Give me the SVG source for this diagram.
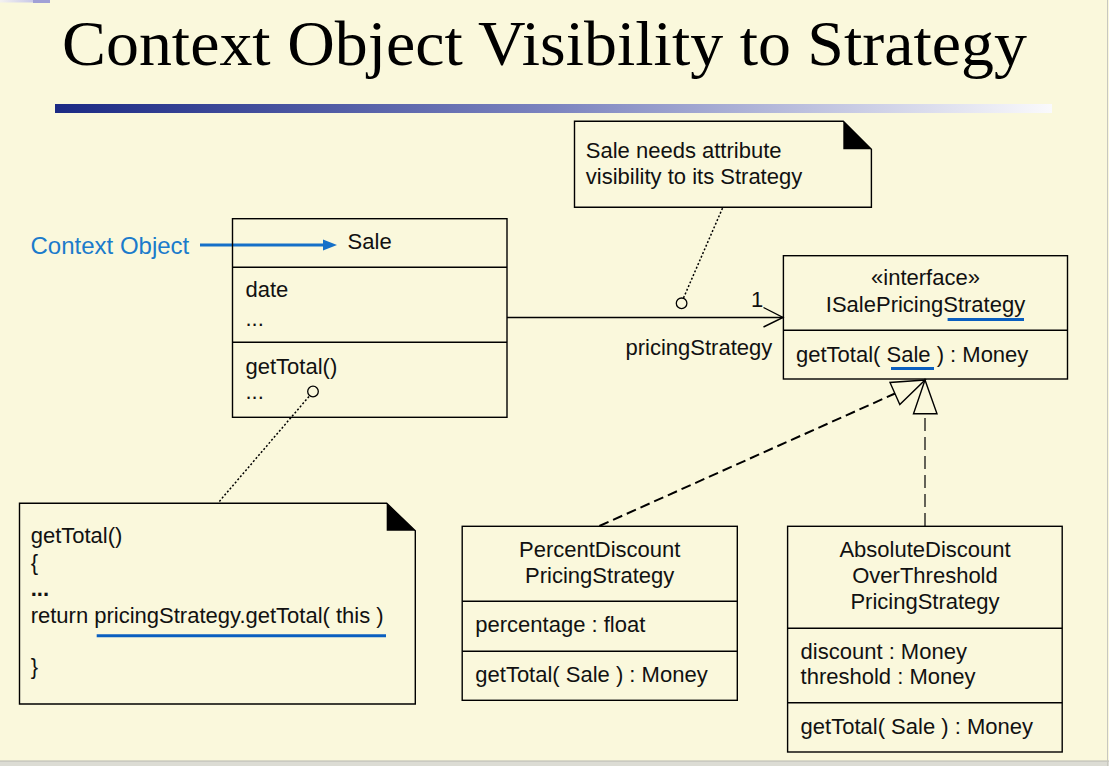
<svg xmlns="http://www.w3.org/2000/svg" width="1109" height="766" viewBox="0 0 1109 766">
<defs>
<linearGradient id="bar" x1="0" y1="0" x2="1" y2="0">
<stop offset="0" stop-color="#1B2A84"/>
<stop offset="0.5" stop-color="#7C84BF"/>
<stop offset="1" stop-color="#FAFAFC"/>
</linearGradient>
<linearGradient id="tl" x1="0" y1="0" x2="1" y2="0">
<stop offset="0" stop-color="#F4F2F0"/>
<stop offset="1" stop-color="#C8C8E8"/>
</linearGradient>
<style>
.t{font-family:"Liberation Sans",Arial,sans-serif;font-size:22px;fill:#111}
.c{text-anchor:middle}
.box{fill:none;stroke:#000;stroke-width:1.4}
.ln{stroke:#000;stroke-width:1.4;fill:none}
.ul{stroke:#0A5FC0;stroke-width:3;fill:none}
.dot{stroke:#000;stroke-width:1.5;stroke-dasharray:2 2;fill:none}
</style>
</defs>
<rect width="1109" height="766" fill="#FAF8DC"/>
<rect x="0" y="0" width="33" height="2.5" fill="url(#tl)"/>
<rect x="33" y="0" width="17" height="3" fill="#A0A0D6"/>
<rect x="0" y="761" width="1109" height="5" fill="#DCDCD4"/>
<line x1="0" y1="761" x2="1109" y2="761" stroke="#B8B8B0" stroke-width="1"/>
<line x1="1107.5" y1="0" x2="1107.5" y2="766" stroke="#C8C8C0" stroke-width="1"/>

<text x="62" y="65" font-family="'Liberation Serif','Times New Roman',serif" font-size="64" fill="#000" textLength="965" lengthAdjust="spacingAndGlyphs">Context Object Visibility to Strategy</text>
<rect x="55" y="104" width="997" height="9" fill="url(#bar)"/>

<g id="connectors">
<line class="ln" x1="507" y1="317.5" x2="783" y2="317.5"/>
<polyline class="ln" points="763.5,307.5 783,317.5 763.5,327"/>
<text class="t" x="751" y="307">1</text>
<text class="t" x="625.5" y="355">pricingStrategy</text>
<circle cx="681.6" cy="303.3" r="5.3" fill="none" stroke="#000" stroke-width="1.3"/>
<line class="dot" x1="683.5" y1="298" x2="723" y2="207"/>
<circle cx="313" cy="391.5" r="5.3" fill="none" stroke="#000" stroke-width="1.3"/>
<line class="dot" x1="309" y1="396.5" x2="218" y2="503"/>
<line x1="599.4" y1="526" x2="895" y2="393.5" stroke="#000" stroke-width="2" stroke-dasharray="10 5"/>
<polygon points="925,380 890,382.5 899.8,404.5" fill="#FAF8DC" stroke="#000" stroke-width="1.4"/>
<line x1="925" y1="526" x2="925" y2="414" stroke="#000" stroke-width="1.2" stroke-dasharray="13 6"/>
<polygon points="925,380 913.5,413.7 937,413.7" fill="#FAF8DC" stroke="#000" stroke-width="1.4"/>
<line x1="200" y1="245" x2="326" y2="245" stroke="#1570C8" stroke-width="3"/>
<polygon points="323,239.5 337,245 323,250.5" fill="#1570C8"/>
</g>

<g id="context-label">
<text x="30.5" y="253.5" font-family="'Liberation Sans',Arial,sans-serif" font-size="24" fill="#1B7BCB">Context Object</text>
</g>

<g id="sale">
<rect class="box" x="232.5" y="218.7" width="274.5" height="198.6"/>
<line class="ln" x1="232.5" y1="267.3" x2="507" y2="267.3"/>
<line class="ln" x1="232.5" y1="342.3" x2="507" y2="342.3"/>
<text class="t" x="347.6" y="249">Sale</text>
<text class="t" x="245.5" y="297.3">date</text>
<text class="t" x="245.5" y="325.7">...</text>
<text class="t" x="245.5" y="374">getTotal()</text>
<text class="t" x="245.5" y="399">...</text>
</g>

<g id="note-visibility">
<polygon class="box" points="574.5,121.3 843.3,121.3 871.4,149.3 871.4,207.3 574.5,207.3"/>
<polygon points="843.3,121.3 843.3,149.3 871.4,149.3" fill="#000"/>
<text class="t" x="585.8" y="158.3">Sale needs attribute</text>
<text class="t" x="585.8" y="184">visibility to its Strategy</text>
</g>

<g id="isalepricingstrategy">
<rect class="box" x="783.4" y="255.7" width="284.1" height="123.3"/>
<line class="ln" x1="783.4" y1="330.3" x2="1067.5" y2="330.3"/>
<text class="t c" x="925.5" y="285">«interface»</text>
<text class="t c" x="925.5" y="312.3">ISalePricingStrategy</text>
<line class="ul" x1="947.6" y1="319.5" x2="1024" y2="319.5"/>
<text class="t" x="796" y="361.7">getTotal( Sale ) : Money</text>
<line class="ul" x1="891" y1="368.5" x2="934" y2="368.5"/>
</g>

<g id="note-code">
<polygon class="box" points="19.5,503.3 386.7,503.3 415.3,530.7 415.3,704 19.5,704"/>
<polygon points="386.7,503.3 386.7,530.7 415.3,530.7" fill="#000"/>
<text class="t" x="30.7" y="543.3">getTotal()</text>
<text class="t" x="30.7" y="569.5">{</text>
<text class="t" x="30.7" y="596" font-weight="bold">...</text>
<text class="t" x="30.7" y="622.5">return pricingStrategy.getTotal( this )</text>
<line class="ul" x1="96.7" y1="635.7" x2="386" y2="635.7"/>
<text class="t" x="30.7" y="674">}</text>
</g>

<g id="percentdiscount">
<rect class="box" x="462.2" y="526.3" width="275.1" height="174"/>
<line class="ln" x1="462.2" y1="601.3" x2="737.3" y2="601.3"/>
<line class="ln" x1="462.2" y1="651.3" x2="737.3" y2="651.3"/>
<text class="t c" x="599.7" y="557.3">PercentDiscount</text>
<text class="t c" x="599.7" y="583.3">PricingStrategy</text>
<text class="t" x="475.3" y="632.3">percentage : float</text>
<text class="t" x="475.3" y="681.7">getTotal( Sale ) : Money</text>
</g>

<g id="absolutediscount">
<rect class="box" x="787.6" y="526.3" width="274.6" height="225.7"/>
<line class="ln" x1="787.6" y1="628.3" x2="1062.2" y2="628.3"/>
<line class="ln" x1="787.6" y1="702.7" x2="1062.2" y2="702.7"/>
<text class="t c" x="925" y="557.3">AbsoluteDiscount</text>
<text class="t c" x="925" y="583.3">OverThreshold</text>
<text class="t c" x="925" y="609.3">PricingStrategy</text>
<text class="t" x="800.6" y="658.7">discount : Money</text>
<text class="t" x="800.6" y="684">threshold : Money</text>
<text class="t" x="800.6" y="734">getTotal( Sale ) : Money</text>
</g>
</svg>
